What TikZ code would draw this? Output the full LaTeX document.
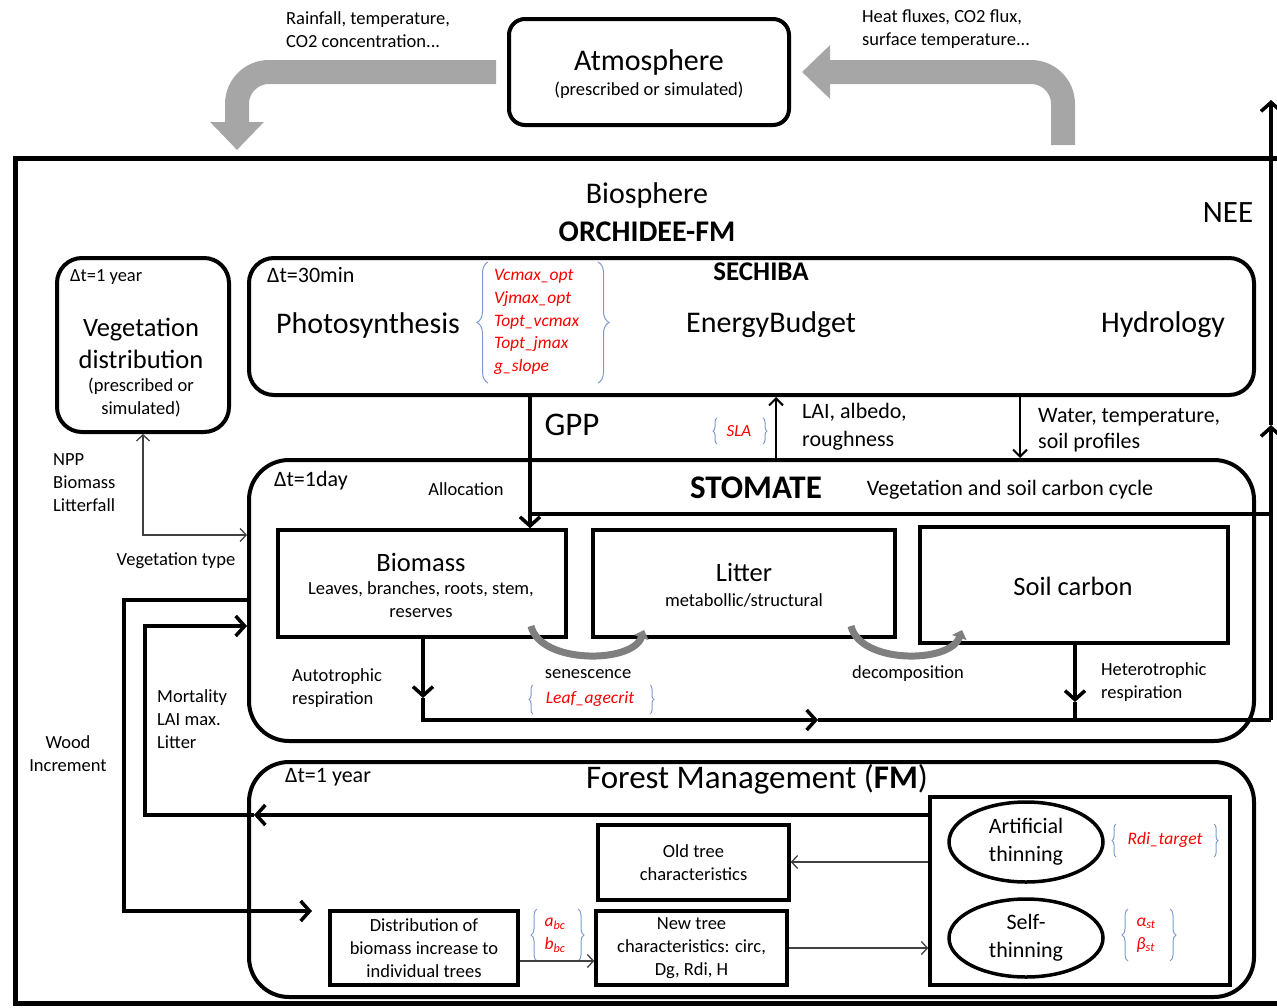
\documentclass[tikz,border=0pt]{standalone}
\usepackage{fontspec}
\setmainfont{Carlito}
\usetikzlibrary{arrows.meta,shapes.geometric,decorations.pathreplacing}

\definecolor{arrowgray}{RGB}{166,166,166}
\definecolor{curvegray}{RGB}{127,127,127}
\definecolor{bracecol}{RGB}{125,155,205}
\definecolor{parred}{RGB}{250,0,0}
\newcommand{\fsz}[2]{\fontsize{#1}{#2}\selectfont}

\begin{document}
\begin{tikzpicture}[x=1pt,y=-1pt,
  every node/.style={inner sep=0pt},
  txtS/.style={font=\fsz{18.5}{23}},
  txtM/.style={font=\fsz{22}{28}},
  txtL/.style={font=\fsz{26.5}{32}},
  txtXL/.style={font=\fsz{30}{36}},
  partxt/.style={text=parred, font=\fsz{17.5}{22.7}\itshape, align=left},
  bigbox/.style={draw, line width=4pt, rounded corners=#1},
  bigbox/.default=25pt,
  poolbox/.style={draw, line width=3.5pt},
  thinell/.style={ellipse, draw, line width=3.5pt, align=center, txtM},
  flow/.style={line width=3.5pt, -{Straight Barb[length=9pt,width=20pt]}},
  thinflow/.style={line width=1.3pt, draw=black!75, -{Straight Barb[length=6pt,width=13pt]}},
  bigflow/.style={line width=24pt, arrowgray, rounded corners=32pt, -{Triangle[length=28pt,width=52pt]}},
  curvy/.style={line width=7pt, curvegray, -{Triangle[length=8pt,width=15pt]}},
  brc/.style={bracecol, line width=1pt, decorate, decoration={brace, amplitude=#1}},
  brc/.default=4pt]
\useasboundingbox (0,0) rectangle (1277,1007);

% atmosphere
\node[bigbox=16pt, minimum width=280, minimum height=106] (atmo) at (649,72) {};
\node[txtXL] (atmoname) at (649,62) {Atmosphere};
\node[txtS] (atmosub) at (649,90) {(prescribed or simulated)};
\node[txtS, align=left, anchor=west] (forcing) at (286,29.5) {Rainfall, temperature,\\CO2 concentration...};
\node[txtS, align=left, anchor=west] (fluxes) at (862,29.5) {Heat fluxes, CO2 flux,\\surface temperature...};
\coordinate (rainend) at (237,150);
\coordinate (heatstart) at (1063,145);
\draw[bigflow] ([xshift=-11pt]atmo.west) -| (rainend);
\draw[bigflow] (heatstart) |- ([xshift=11pt]atmo.east);

% biosphere frame
\draw[line width=5pt] (1285,158) -- (15,158) -- (15,1003) -- (1285,1003);
\node[txtXL] (bioname) at (647,195) {Biosphere};
\node[txtXL, font=\fsz{30}{36}\bfseries] (orch) at (647,232) {ORCHIDEE-FM};
\node[font=\fsz{31}{36}] (nee) at (1228,213) {NEE};

% vegetation distribution
\node[bigbox=25pt, minimum width=172, minimum height=174] (veg) at (143,345) {};
\node[txtS, anchor=west] (vegdt) at (70,277) {Δt=1 year};
\node[txtL, align=center] (vegname) at (141,343) {Vegetation\\distribution};
\node[txtS, align=center] (vegsub) at (141,397.5) {(prescribed or\\simulated)};

% SECHIBA
\node[bigbox=25pt, minimum width=1005, minimum height=137] (sechiba) at (751.5,326.5) {};
\node[txtM, anchor=west] (sechdt) at (267,275) {Δt=30min};
\node[font=\fsz{27}{32}\bfseries] (sechname) at (761,272) {SECHIBA};
\node[txtXL] (photo) at (368,325) {Photosynthesis};
\node[partxt, anchor=west] (photopar) at (494,322) {Vcmax\_opt\\Vjmax\_opt\\Topt\_vcmax\\Topt\_jmax\\g\_slope};
\draw[brc=11pt] (488,383) -- (488,262);
\draw[brc=11pt] (598,262) -- (598,383);
\node[txtXL] (energy) at (771,325) {EnergyBudget};
\node[txtXL] (hydro) at (1163,325) {Hydrology};

% STOMATE
\node[bigbox=40pt, minimum width=1005, minimum height=281] (stomate) at (751.5,600.5) {};
\node[txtM, anchor=west] (stomdt) at (274,481) {Δt=1day};
\node[txtS] (alloc) at (466,489) {Allocation};
\node[font=\fsz{33}{40}\bfseries] (stomname) at (756,488) {STOMATE};
\node[txtM] (stomsub) at (1010,490) {Vegetation and soil carbon cycle};

\node[poolbox, minimum width=288, minimum height=107] (biomass) at (422,583.5) {};
\node[txtL] (biomname) at (421,562) {Biomass};
\node[txtS, align=center] (biomsub) at (421,599.5) {Leaves, branches, roots, stem,\\reserves};
\node[poolbox, minimum width=302, minimum height=107] (litter) at (744,583.5) {};
\node[txtL] (littname) at (744,572) {Litter};
\node[txtS] (littsub) at (744,600) {metabollic/structural};
\node[poolbox, minimum width=308, minimum height=116] (soil) at (1074,585) {};
\node[txtL] (soilname) at (1073,586) {Soil carbon};

\draw[curvy] (531,626) .. controls (540,664) and (632,664) .. (644,630);
\draw[curvy] (851,626) .. controls (860,664) and (950,664) .. (962,630);
\node[txtS] (senes) at (588,674) {senescence};
\node[partxt] (leafpar) at (590,699) {Leaf\_agecrit};
\draw[brc] (533,714) -- (533,685);
\draw[brc] (650,685) -- (650,714);
\node[txtS] (decomp) at (908,674) {decomposition};
\node[txtS, align=left, anchor=west] (autolbl) at (292,688) {Autotrophic\\respiration};
\node[txtS, align=left, anchor=west] (hetlbl) at (1101,682) {Heterotrophic\\respiration};

% GPP and NEE
\coordinate (gppx) at (530,0);
\draw[flow] (sechiba.south -| gppx) -- (biomass.north -| gppx);
\node[font=\fsz{33}{40}] (gpplbl) at (572,425) {GPP};
\coordinate (stomline) at (530,514);
\coordinate (neeline) at (1271,514);
\draw[line width=3.5pt] (stomline) -- (neeline);
\coordinate (neetop) at (1271,100);
\coordinate (neemid) at (1271,425);
\coordinate (respend) at (1271,720);
\draw[flow] (respend) -- (neemid);
\draw[flow] (neemid) -- (neetop);

% respiration
\coordinate (autoarr) at (423,698);
\coordinate (respmid) at (818,720);
\draw[flow] (biomass.south -| autoarr) -- (autoarr);
\draw[flow] (autoarr) |- (respmid);
\draw[line width=3.5pt] (respmid) -- (respend);
\coordinate (hetarr) at (1075,702);
\draw[flow] (soil.south -| hetarr) -- (hetarr);
\draw[line width=3.5pt] (hetarr) -- (hetarr |- respend);

% SECHIBA <-> STOMATE
\node[partxt, font=\fsz{17}{20}\itshape] (slapar) at (739,431) {SLA};
\draw[brc] (717,444) -- (717,418);
\draw[brc] (763,418) -- (763,444);
\coordinate (laix) at (776,0);
\coordinate (waterx) at (1020,0);
\draw[flow, line width=2pt, -{Straight Barb[length=7pt,width=14pt]}] (stomate.north -| laix) -- (sechiba.south -| laix);
\draw[flow, line width=2pt, -{Straight Barb[length=7pt,width=14pt]}] (sechiba.south -| waterx) -- (stomate.north -| waterx);
\node[txtM, align=left, anchor=west] (lailbl) at (802,427) {LAI, albedo,\\roughness};
\node[txtM, align=left, anchor=west, font=\fsz{22}{26}] (waterlbl) at (1038,430) {Water, temperature,\\soil profiles};

% vegetation <-> STOMATE
\coordinate (vegin) at (0,535);
\draw[thinflow, {Straight Barb[length=6pt,width=13pt]}-{Straight Barb[length=6pt,width=13pt]}] (veg.south) |- (stomate.west |- vegin);
\node[txtS, align=left, anchor=west] (npplbl) at (53,483) {NPP\\Biomass\\Litterfall};
\node[txtS] (vegtype) at (176,561) {Vegetation type};

% forest management
\node[bigbox=40pt, minimum width=1005, minimum height=235] (fm) at (751.5,879.5) {};
\node[txtM, anchor=west] (fmdt) at (285,777) {Δt=1 year};
\node[font=\fsz{33}{40}] (fmname) at (757,779) {Forest Management (\textbf{FM})};
\node[poolbox, minimum width=300, minimum height=188] (thinning) at (1080,891) {};
\node[thinell, minimum width=154, minimum height=80] (artif) at (1026,842) {Artificial\\thinning};
\node[thinell, minimum width=154, minimum height=78] (selfth) at (1026,938) {Self-\\thinning};
\node[partxt] (rdipar) at (1165,840) {Rdi\_target};
\draw[brc] (1116,857) -- (1116,824);
\draw[brc] (1214,824) -- (1214,857);
\node[partxt, font=\fsz{17.5}{23}] (stpar) at (1146,935) {\textit{α}\textsubscript{\textit{st}}\\\textit{β}\textsubscript{\textit{st}}};
\draw[brc=6pt] (1128,961) -- (1128,909);
\draw[brc=6pt] (1170,909) -- (1170,961);
\node[poolbox, txtS, align=center, minimum width=191, minimum height=75] (old) at (693.5,862.5) {Old tree\\characteristics};
\node[poolbox, txtS, align=center, minimum width=188, minimum height=74] (distr) at (424,948) {Distribution of\\biomass increase to\\individual trees};
\node[poolbox, txtS, align=center, minimum width=191, minimum height=74] (newtree) at (691.5,948) {New tree\\characteristics: circ,\\Dg, Rdi, H};
\node[partxt, font=\fsz{17.5}{23}] (bcpar) at (555,935) {\textit{a}\textsubscript{\textit{bc}}\\\textit{b}\textsubscript{\textit{bc}}};
\draw[brc=6pt] (537,961) -- (537,909);
\draw[brc=6pt] (578,909) -- (578,961);

\coordinate (oldy) at (0,862);
\coordinate (newy) at (0,948);
\coordinate (distry) at (0,961);
\draw[thinflow] (thinning.west |- oldy) -- (old.east |- oldy);
\draw[thinflow] (newtree.east |- newy) -- (thinning.west |- newy);
\draw[thinflow] (distr.east |- distry) -- (newtree.west |- distry);

% FM <-> STOMATE
\coordinate (morty) at (0,815);
\coordinate (mortarr) at (254,815);
\coordinate (mortcorner) at (145,626);
\draw[flow] (thinning.west |- morty) -- (mortarr);
\draw[flow] (mortarr) -| (mortcorner) -- (stomate.west |- mortcorner);
\node[txtS, align=left, anchor=west] (mortlbl) at (157,719) {Mortality\\LAI max.\\Litter};
\coordinate (woody) at (0,600);
\coordinate (woodcorner) at (124,911);
\coordinate (woodin) at (312,911);
\draw[flow] (stomate.west |- woody) -| (woodcorner) -- (woodin);
\node[txtS, align=center] (woodlbl) at (68,753.5) {Wood\\Increment};
\end{tikzpicture}
\end{document}
